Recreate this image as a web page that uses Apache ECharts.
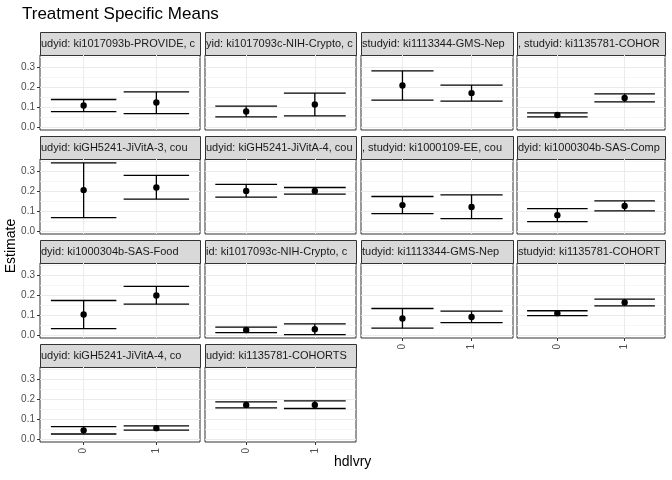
<!DOCTYPE html>
<html lang="en">
<head>
<meta charset="UTF-8">
<title>Treatment Specific Means</title>
<script src="https://cdn.jsdelivr.net/npm/echarts@6/dist/echarts.min.js"></script>
<style>html,body{margin:0;height:100%;background:#fff;}</style>
</head>
<body>
<div id="chart" style="width:672px;height:480px;"></div>
<script>
// strip labels (as visible, clipped by the strip)
var strips = [
  'udyid: ki1017093b-PROVIDE, c', 'yid: ki1017093c-NIH-Crypto, c', 'studyid: ki1113344-GMS-Nep', ', studyid: ki1135781-COHORTS',
  'udyid: kiGH5241-JiVitA-3, cou', 'udyid: kiGH5241-JiVitA-4, cou', ', studyid: ki1000109-EE, cou', 'dyid: ki1000304b-SAS-Comp',
  'dyid: ki1000304b-SAS-Food', 'id: ki1017093c-NIH-Crypto, c', 'tudyid: ki1113344-GMS-Nep', 'studyid: ki1135781-COHORT',
  'udyid: kiGH5241-JiVitA-4, co', 'udyid: ki1135781-COHORTS'
];
var hdlvry = [0, 1];
// estimate per panel for hdlvry 0 / 1
var est = [
  [0.110, 0.125], [0.080, 0.115], [0.210, 0.172], [0.063, 0.148],
  [0.207, 0.220], [0.203, 0.203], [0.132, 0.123], [0.082, 0.128],
  [0.105, 0.200], [0.028, 0.032], [0.085, 0.093], [0.112, 0.165],
  [0.046, 0.057], [0.173, 0.173]
];
var lower = [
  [0.080, 0.070], [0.053, 0.058], [0.137, 0.132], [0.053, 0.128],
  [0.070, 0.162], [0.172, 0.187], [0.090, 0.065], [0.050, 0.103],
  [0.035, 0.157], [0.015, 0.005], [0.037, 0.065], [0.100, 0.148],
  [0.028, 0.047], [0.158, 0.155]
];
var upper = [
  [0.140, 0.178], [0.107, 0.172], [0.283, 0.212], [0.073, 0.168],
  [0.343, 0.280], [0.235, 0.220], [0.175, 0.183], [0.115, 0.153],
  [0.175, 0.245], [0.042, 0.058], [0.135, 0.122], [0.124, 0.182],
  [0.065, 0.068], [0.188, 0.193]
];
var yTicks = [0, 0.1, 0.2, 0.3];
var yMinor = [0.05, 0.15, 0.25, 0.35];

var colL = [40, 205, 361, 517], colW = [160, 151, 152, 148];
var rowT = [55, 159, 263, 367], panelH = 75, stripH = 23;

var grids = [], xAxes = [], yAxes = [], series = [], graphics = [];
strips.forEach(function (s, i) {
  var r = Math.floor(i / 4), c = i % 4;
  var bottom = (i >= 10);
  grids.push({left: colL[c], top: rowT[r], width: colW[c], height: panelH,
    show: true, borderColor: '#333', borderWidth: 1, backgroundColor: '#fff'});
  xAxes.push({type: 'value', gridIndex: i, min: -0.6, max: 1.6,
    axisLine: {show: false, onZero: false},
    axisTick: {show: bottom, customValues: hdlvry, length: 3, lineStyle: {color: '#333'}},
    axisLabel: {show: bottom, customValues: hdlvry, rotate: 90, color: '#4d4d4d', fontSize: 10, margin: 6},
    splitLine: {show: true, lineStyle: {color: '#ebebeb'}}});
  yAxes.push({type: 'value', gridIndex: i, min: -0.012, max: 0.362,
    axisLine: {show: false, onZero: false},
    axisTick: {show: c === 0, customValues: yTicks, length: 3, lineStyle: {color: '#333'}},
    axisLabel: {show: c === 0, customValues: yTicks, color: '#4d4d4d', fontSize: 10, margin: 5,
      formatter: function (v) { return v.toFixed(1); }},
    splitLine: {show: true, lineStyle: {color: '#ebebeb'}}});
  // minor horizontal grid lines
  yAxes.push({type: 'value', gridIndex: i, min: -0.012, max: 0.362,
    axisLine: {show: false, onZero: false},
    axisTick: {show: false, customValues: yMinor},
    axisLabel: {show: false, customValues: yMinor},
    splitLine: {show: true, lineStyle: {color: '#f3f3f3', width: 0.8}}});
  var d = hdlvry.map(function (x, k) { return [x, lower[i][k], upper[i][k], est[i][k]]; });
  series.push({type: 'custom', xAxisIndex: i, yAxisIndex: 2 * i, data: d, silent: true, z: 5,
    renderItem: function (params, api) {
      var x = api.value(0), lo = api.value(1), hi = api.value(2), m = api.value(3);
      var a = api.coord([x - 0.45, lo]), b = api.coord([x + 0.45, lo]);
      var c1 = api.coord([x - 0.45, hi]), c2 = api.coord([x + 0.45, hi]);
      var mid = api.coord([x, m]), top = api.coord([x, hi]), bot = api.coord([x, lo]);
      var st = {stroke: '#000', lineWidth: 1.3};
      return {type: 'group', children: [
        {type: 'line', shape: {x1: a[0], y1: a[1], x2: b[0], y2: b[1]}, style: st},
        {type: 'line', shape: {x1: c1[0], y1: c1[1], x2: c2[0], y2: c2[1]}, style: st},
        {type: 'line', shape: {x1: top[0], y1: top[1], x2: bot[0], y2: bot[1]}, style: st},
        {type: 'circle', shape: {cx: mid[0], cy: mid[1], r: 3.2}, style: {fill: '#000'}}
      ]};
    }});
  graphics.push({type: 'rect', left: colL[c], top: rowT[r] - stripH,
    shape: {width: colW[c], height: stripH}, style: {fill: '#d9d9d9', stroke: '#333', lineWidth: 1}});
  graphics.push({type: 'text', left: colL[c] + 1, top: rowT[r] - stripH + 6,
    style: {text: s, fill: '#1a1a1a', font: '11px "Liberation Sans", Arial, sans-serif',
      width: colW[c] - 2, overflow: 'truncate', ellipsis: ''}});
});
graphics.push({type: 'text', left: 22, top: 6,
  style: {text: 'Treatment Specific Means', fill: '#000', font: '17px "Liberation Sans", Arial, sans-serif'}});
graphics.push({type: 'text', x: 4, y: 246, rotation: Math.PI / 2,
  style: {text: 'Estimate', fill: '#000', font: '14px "Liberation Sans", Arial, sans-serif', align: 'center', verticalAlign: 'top'}});
graphics.push({type: 'text', left: 334, top: 455,
  style: {text: 'hdlvry', fill: '#000', font: '14px "Liberation Sans", Arial, sans-serif'}});

var myChart = echarts.init(document.getElementById('chart'));
myChart.setOption({animation: false, grid: grids, xAxis: xAxes, yAxis: yAxes, series: series, graphic: graphics});
</script>
</body>
</html>
